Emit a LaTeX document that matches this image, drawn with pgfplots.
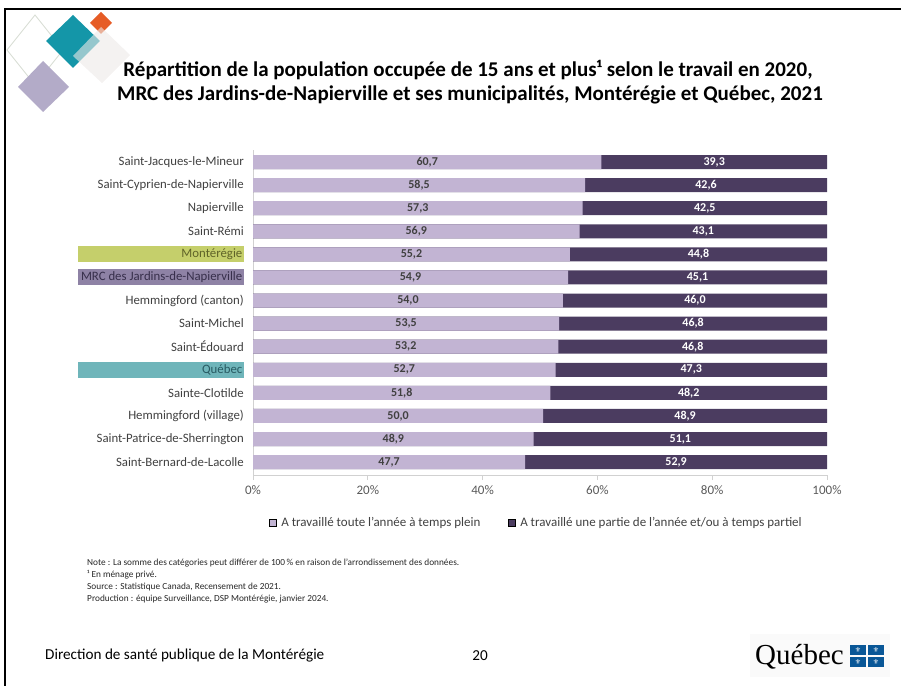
\documentclass[border=0pt]{standalone}
\usepackage{fontspec}
\setmainfont{Carlito}
\newfontfamily\symfont{DejaVu Sans}
\newfontfamily\logofont{Liberation Serif}
\usepackage{pgfplots}
\pgfplotsset{compat=1.18}
\usepackage{pgfplotstable}

\definecolor{plein}{RGB}{194,180,211}
\definecolor{partiel}{RGB}{75,60,96}
\definecolor{hlMonte}{RGB}{197,207,107}
\definecolor{txtMonte}{RGB}{95,99,40}
\definecolor{hlMRC}{RGB}{142,130,165}
\definecolor{txtMRC}{RGB}{55,47,75}
\definecolor{hlQc}{RGB}{111,181,186}
\definecolor{txtQc}{RGB}{40,90,98}
\definecolor{ticktxt}{RGB}{89,89,89}
\definecolor{labtxt}{RGB}{64,64,64}
\definecolor{qcblue}{RGB}{9,87,151}

% highlighted category label: fixed-width coloured box
\newcommand{\hl}[3]{{\setlength{\fboxsep}{0pt}\colorbox{#1}{\makebox[166bp][r]{\rule[-4.5bp]{0pt}{16bp}\color{#2}#3\hspace{1.5bp}}}}}

% first value: full year, full time; second: part of year and/or part time
\pgfplotstableread{
idx a b
0 60.7 39.3
1 58.5 42.6
2 57.3 42.5
3 56.9 43.1
4 55.2 44.8
5 54.9 45.1
6 54.0 46.0
7 53.5 46.8
8 53.2 46.8
9 52.7 47.3
10 51.8 48.2
11 50.0 48.9
12 48.9 51.1
13 47.7 52.9
}\data

\begin{document}
\begin{tikzpicture}[x=1bp,y=-1bp]
\path[use as bounding box] (0,0) rectangle (902,686);

% slide frame
\draw[line width=2bp] (5,686) -- (5,9) -- (901,9);

% decorative diamonds
\draw[color={rgb,255:red,214;green,220;blue,210}, line width=0.8bp] (35,15) -- (63,50) -- (35,85) -- (7,50) -- cycle;
\fill[color={rgb,255:red,20;green,150;blue,168}] (73,15) -- (100,41) -- (73,68) -- (46,41) -- cycle;
\fill[color={rgb,255:red,230;green,92;blue,38}] (101,12) -- (112,23) -- (101,34) -- (90,23) -- cycle;
\fill[color={rgb,255:red,236;green,233;blue,231}, opacity=0.6] (101,27) -- (130,55) -- (102,83) -- (73,56) -- cycle;
\fill[color={rgb,255:red,179;green,171;blue,200}] (43,61) -- (69,87) -- (43,112) -- (18,87) -- cycle;

% title
\node[font=\bfseries\fontsize{21bp}{24bp}\selectfont] at (468,70) {Répartition de la population occupée de 15 ans et plus¹ selon le travail en 2020,};
\node[font=\bfseries\fontsize{21bp}{24bp}\selectfont] at (470,95) {MRC des Jardins-de-Napierville et ses municipalités, Montérégie et Québec, 2021};

\begin{axis}[
    at={(253bp,-475bp)}, anchor=south west,
    scale only axis, width=574bp, height=325bp,
    xmin=0, xmax=100, ymin=-0.52, ymax=13.56,
    y dir=reverse,
    axis x line*=bottom, axis y line*=left,
    axis line style={draw=black!18, line width=0.9bp},
    xtick={0,20,...,100},
    xticklabel={\pgfmathprintnumber{\tick}\%},
    xtick style={draw=black!18, line width=0.9bp},
    major tick length=5bp, tick align=outside,
    xticklabel style={font=\fontsize{13bp}{15bp}\selectfont, text=ticktxt, yshift=-2.5bp},
    ytick={0,...,13},
    ytick style={draw=none},
    yticklabel style={font=\fontsize{12.8bp}{15bp}\selectfont, text=labtxt, inner sep=0pt, xshift=-4bp},
    yticklabels={Saint-Jacques-le-Mineur, Saint-Cyprien-de-Napierville, Napierville, Saint-Rémi,
        \hl{hlMonte}{txtMonte}{Montérégie}, \hl{hlMRC}{txtMRC}{MRC des Jardins-de-Napierville},
        Hemmingford (canton), Saint-Michel, Saint-Édouard, \hl{hlQc}{txtQc}{Québec},
        Sainte-Clotilde, Hemmingford (village), Saint-Patrice-de-Sherrington, Saint-Bernard-de-Lacolle},
    /pgf/number format/assume math mode=true,
    legend columns=2,
    legend style={at={(axis description cs:0.494,-0.148)}, anchor=center, draw=none, fill=none,
        font=\fontsize{13bp}{15bp}\selectfont, text=labtxt,
        /tikz/every even column/.append style={column sep=26bp}},
    legend image code/.code={\fill[#1] (0bp,-3.5bp) rectangle (7bp,3.5bp); \path (9.5bp,0bp);},
]
\addlegendimage{fill=plein}
\addlegendentry{A travaillé toute l'année à temps plein}
\addlegendimage{fill=partiel}
\addlegendentry{A travaillé une partie de l'année et/ou à temps partiel}

% bars, shares normalised to 100 % as in the source chart
\addplot[xbar, bar width=14bp, bar shift=0pt, fill=partiel, draw=none, forget plot]
    table[x expr={100*(\thisrow{a}+\thisrow{b})/(\thisrow{a}+\thisrow{b})}, y=idx] {\data};
\addplot[xbar, bar width=14bp, bar shift=0pt, fill=plein, draw=none, forget plot]
    table[x expr={100*\thisrow{a}/(\thisrow{a}+\thisrow{b})}, y=idx] {\data};

% value labels, centred in each segment
\addplot[draw=none, mark=none, forget plot, point meta=explicit,
    nodes near coords={\pgfmathprintnumber[fixed,fixed zerofill,precision=1,use comma]{\pgfplotspointmeta}},
    nodes near coords align=center,
    every node near coord/.append style={font=\bfseries\fontsize{12bp}{13bp}\selectfont, text=labtxt}]
    table[x expr={50*\thisrow{a}/(\thisrow{a}+\thisrow{b})}, y=idx, meta=a] {\data};
\addplot[draw=none, mark=none, forget plot, point meta=explicit,
    nodes near coords={\pgfmathprintnumber[fixed,fixed zerofill,precision=1,use comma]{\pgfplotspointmeta}},
    nodes near coords align=center,
    every node near coord/.append style={font=\bfseries\fontsize{12bp}{13bp}\selectfont, text=white}]
    table[x expr={100*(\thisrow{a}+0.5*\thisrow{b})/(\thisrow{a}+\thisrow{b})}, y=idx, meta=b] {\data};
\end{axis}

% notes
\begin{scope}[every node/.style={anchor=west, inner sep=0pt, font=\fontsize{9.3bp}{10bp}\selectfont, text=black!85}]
\node at (87,563) {Note : La somme des catégories peut différer de 100\,\% en raison de l'arrondissement des données.};
\node at (87,575) {¹ En ménage privé.};
\node at (87,587) {Source : Statistique Canada, Recensement de 2021.};
\node at (87,599) {Production : équipe Surveillance, DSP Montérégie, janvier 2024.};
\end{scope}

% footer
\node[anchor=west, inner sep=0pt, font=\fontsize{15.2bp}{17bp}\selectfont] at (45,656) {Direction de santé publique de la Montérégie};
\node[font=\fontsize{15.2bp}{17bp}\selectfont] at (480,656) {20};

% Québec signature
\fill[black!2] (750,634) rectangle (890,677);
\node[anchor=west, inner sep=0pt, font=\logofont\fontsize{29bp}{32bp}\selectfont] at (755,657) {Québec};
\fill[qcblue] (850,645) rectangle (866,655);
\fill[qcblue] (868,645) rectangle (884,655);
\fill[qcblue] (850,657) rectangle (866,667);
\fill[qcblue] (868,657) rectangle (884,667);
\foreach \cx/\cy in {858/650, 876/650, 858/662, 876/662}
  \node[text=white, inner sep=0pt, font=\symfont\fontsize{7bp}{7bp}\selectfont] at (\cx,\cy) {⚜};
\end{tikzpicture}
\end{document}
